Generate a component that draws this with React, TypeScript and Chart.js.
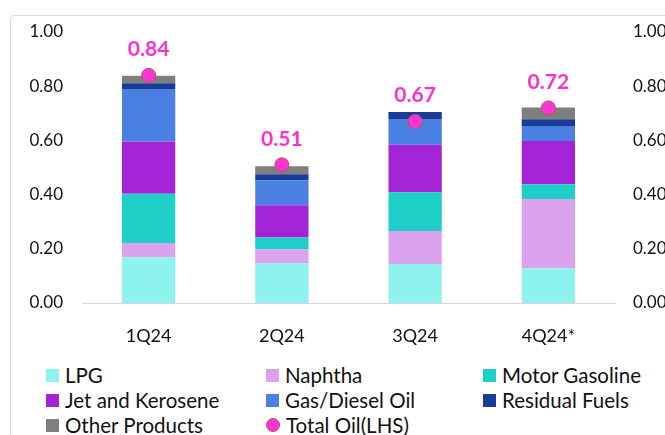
import React, { useEffect, useRef } from "react";
import { Chart, registerables } from "chart.js";

Chart.register(...registerables);

const categories = ["1Q24", "2Q24", "3Q24", "4Q24*"];
const lpg = [0.169, 0.146, 0.144, 0.128];
const naphtha = [0.052, 0.052, 0.122, 0.256];
const motorGasoline = [0.182, 0.044, 0.143, 0.054];
const jetKerosene = [0.193, 0.119, 0.175, 0.16];
const gasDiesel = [0.194, 0.092, 0.095, 0.055];
const residualFuels = [0.021, 0.022, 0.026, 0.025];
const otherProducts = [0.028, 0.03, 0.0, 0.043];
const totalOil = [0.84, 0.51, 0.67, 0.72];
const yTicks = [0, 0.2, 0.4, 0.6, 0.8, 1.0];

const FONT = "Lato, 'Open Sans', sans-serif";

const series = [
  { label: "LPG", data: lpg, color: "#8ef2ef" },
  { label: "Naphtha", data: naphtha, color: "#dba2ee" },
  { label: "Motor Gasoline", data: motorGasoline, color: "#1dcfc6" },
  { label: "Jet and Kerosene", data: jetKerosene, color: "#a323d6" },
  { label: "Gas/Diesel Oil", data: gasDiesel, color: "#4a80e2" },
  { label: "Residual Fuels", data: residualFuels, color: "#1a3c96" },
  { label: "Other Products", data: otherProducts, color: "#7f7f7f" },
];

const TOTAL_COLOR = "#ff33d6";
const TOTAL_BORDER = "#c0504d";

const legendItems = [
  ...series.map((s) => ({ label: s.label, color: s.color, round: false })),
  { label: "Total Oil(LHS)", color: TOTAL_COLOR, round: true },
];

const valueLabels = {
  id: "valueLabels",
  afterDatasetsDraw(chart: any) {
    const idx = chart.data.datasets.length - 1;
    const meta = chart.getDatasetMeta(idx);
    const ctx = chart.ctx;
    ctx.save();
    ctx.font = `bold 21px ${FONT}`;
    ctx.fillStyle = "#ff2fcf";
    ctx.textAlign = "center";
    ctx.textBaseline = "middle";
    meta.data.forEach((pt: any, i: number) => {
      const v = chart.data.datasets[idx].data[i];
      ctx.fillText(Number(v).toFixed(2), pt.x, pt.y - 26);
    });
    ctx.restore();
  },
};

export default function App() {
  const ref = useRef<HTMLCanvasElement>(null);

  useEffect(() => {
    if (!ref.current) return;
    const tickCfg = {
      font: { family: FONT, size: 17 },
      color: "#111111",
      callback: (v: any) => Number(v).toFixed(2),
      stepSize: 0.2,
    };
    const chart = new Chart(ref.current, {
      type: "bar",
      data: {
        labels: categories,
        datasets: [
          ...series.map((s) => ({
            type: "bar" as const,
            label: s.label,
            data: s.data,
            backgroundColor: s.color,
            borderWidth: 0,
            yAxisID: "y",
            barPercentage: 0.4,
            categoryPercentage: 1,
            order: 2,
          })),
          {
            type: "line" as const,
            label: "Total Oil(LHS)",
            data: totalOil,
            yAxisID: "y1",
            showLine: false,
            pointRadius: 7,
            pointBackgroundColor: TOTAL_COLOR,
            pointBorderColor: TOTAL_BORDER,
            pointBorderWidth: 1,
            order: 1,
          } as any,
        ],
      },
      options: {
        animation: false,
        responsive: false,
        maintainAspectRatio: false,
        layout: { padding: { top: 32, left: 0, right: 0, bottom: 0 } },
        plugins: { legend: { display: false }, tooltip: { enabled: false } },
        scales: {
          x: {
            stacked: true,
            grid: { display: false, drawTicks: false },
            border: { display: true, color: "#d6d6d6", width: 1 },
            ticks: { font: { family: FONT, size: 18 }, color: "#111111", padding: 22 },
            afterFit: (s: any) => {
              s.height = 47;
            },
          },
          y: {
            stacked: true,
            min: 0,
            max: 1,
            grid: { display: false, drawTicks: false },
            border: { display: false },
            ticks: { ...tickCfg, padding: 19 },
            afterBuildTicks: (s: any) => {
              s.ticks = yTicks.map((v) => ({ value: v }));
            },
            afterFit: (s: any) => {
              s.width = 82;
            },
          },
          y1: {
            position: "right",
            stacked: false,
            min: 0,
            max: 1,
            grid: { display: false, drawTicks: false },
            border: { display: false },
            ticks: { ...tickCfg, padding: 18 },
            afterBuildTicks: (s: any) => {
              s.ticks = yTicks.map((v) => ({ value: v }));
            },
            afterFit: (s: any) => {
              s.width = 65;
            },
          },
        },
      } as any,
      plugins: [valueLabels],
    });
    return () => chart.destroy();
  }, []);

  return (
    <div
      style={{
        position: "absolute",
        left: 0,
        top: 0,
        width: 665,
        height: 435,
        overflow: "hidden",
        background: "#fff",
        fontFamily: FONT,
      }}
    >
      <div
        style={{
          position: "absolute",
          left: 10,
          top: 15,
          width: 720,
          height: 500,
          border: "1px solid #dcdcdc",
          borderRadius: 4,
        }}
      />
      <canvas
        ref={ref}
        width={680}
        height={350}
        style={{ position: "absolute", left: 0, top: 0, width: 680, height: 350 }}
      />
      {legendItems.map((it, i) => {
        const col = i % 3;
        const row = Math.floor(i / 3);
        const x = [46, 266, 483][col];
        const cy = 375 + row * 25;
        return (
          <div
            key={it.label}
            style={{
              position: "absolute",
              left: x,
              top: cy - 13,
              height: 26,
              display: "flex",
              alignItems: "center",
              whiteSpace: "nowrap",
              fontSize: 20.5,
              color: "#111111",
            }}
          >
            <span
              style={{
                display: "inline-block",
                width: it.round ? 12 : 13,
                height: it.round ? 12 : 13,
                background: it.color,
                borderRadius: it.round ? "50%" : 0,
                border: it.round ? `1px solid ${TOTAL_BORDER}` : "none",
                marginRight: 6,
              }}
            />
            <span>{it.label}</span>
          </div>
        );
      })}
    </div>
  );
}
